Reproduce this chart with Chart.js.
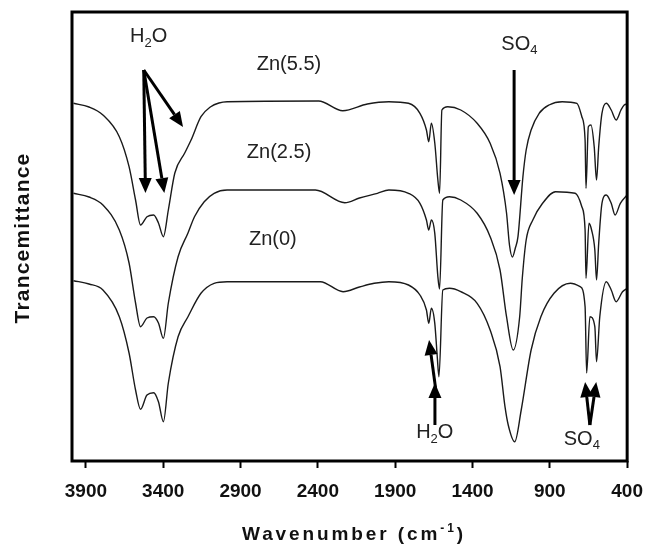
<!DOCTYPE html>
<html>
<head>
<meta charset="utf-8">
<script src="https://cdn.jsdelivr.net/npm/chart.js@4/dist/chart.umd.min.js"></script>
<style>
  html, body { margin: 0; padding: 0; background: #fff; }
  canvas { display: block; }
</style>
</head>
<body>
<canvas id="c" width="655" height="547"></canvas>
<script>
// ---- Data (wavenumber in cm-1, transmittance in arbitrary offset units) ----
const tickValues = [3900, 3400, 2900, 2400, 1900, 1400, 900, 400];
const seriesNames = ["Zn(5.5)", "Zn(2.5)", "Zn(0)"];

const zn55_wn = [3980,3880,3790,3684,3621,3579,3547,3505,3462,3431,3399,3367,3325,3261,3220,3156,3093,3040,2987,2395,2239,2080,1941,1814,1740,1698,1683,1666,1644,1624,1613,1598,1560,1476,1370,1286,1222,1180,1161,1142,1123,1106,1074,1053,1021,969,905,820,725,693,672,666,651,634,613,598,584,563,535,503,471,440,419,400];
const zn55_t  = [357.7,354,346,324.3,294.3,261,236,244.3,246,238,224.3,251,288,308,321,344.3,354.3,358,359.3,360,350.3,357,359.3,357.7,347.7,331,319.3,337.7,318,281,267.7,351,354.3,351,337.7,317.7,287.7,248,216,204,213,224.3,284.3,311,331,347.7,356,359.3,357.7,344.3,321,272.7,334.3,336,314.3,281,314.3,347.7,357.7,351,341,351,356,357];

const zn25_wn = [3980,3880,3790,3684,3621,3579,3547,3505,3462,3431,3399,3367,3304,3240,3198,3135,3071,2987,2532,2416,2226,2131,2015,1941,1814,1740,1698,1683,1666,1644,1624,1613,1592,1549,1476,1370,1286,1222,1180,1137,1095,1078,1053,1010,947,863,736,693,672,666,647,630,609,598,584,563,535,503,478,444,400];
const zn25_t  = [267.7,264,256,231,198,158,134.3,143,144.3,138,122.7,158,204.3,228,244.3,259.3,267.7,271,271,271,258.3,263,267.7,271,267.7,257.7,241,231,241,227.7,184.3,172,261,264.3,261,247.7,224.3,191,144.3,111,144.3,183,221,241,257.7,269.3,267.7,254.3,231,182.7,237.7,231,211,181,217.7,257.7,266,257.7,246,257.7,266];

const zn0_wn = [3980,3880,3790,3684,3621,3579,3547,3505,3462,3431,3399,3367,3304,3240,3156,3071,2987,2384,2237,2131,2036,1941,1814,1740,1698,1683,1666,1644,1628,1617,1592,1549,1476,1370,1286,1222,1190,1169,1127,1085,1021,958,873,767,704,672,662,641,609,598,577,535,503,471,430,400];
const zn0_t  = [180.3,177,171,144.3,108,71,51.7,66,68.3,59.3,39.3,78,124.3,144.3,167.7,177.7,179.3,179.3,169.3,174,177.7,179.3,176,166,151,137.7,152.7,137.7,104.3,84.3,171,172.7,169.3,157.7,131,94.3,54.3,36,19.3,51,111,144.3,167.7,177.7,174.3,154.3,88,144.3,134.3,99.3,144.3,179.3,171,159.3,169.3,172.7];

const FONT = "'Liberation Sans', Arial, Helvetica, sans-serif";

function mk(wn, t, label) {
  return {
    label: label,
    data: wn.map((x, i) => ({ x: x, y: t[i] })),
    borderColor: '#1a1a1a',
    borderWidth: 1.4,
    pointRadius: 0,
    cubicInterpolationMode: 'monotone',
    fill: false
  };
}

function drawRich(ctx, parts, cx, cy, spacing) {
  let total = 0;
  parts.forEach(p => {
    ctx.font = (p.weight || 'normal') + ' ' + p.size + 'px ' + FONT;
    ctx.letterSpacing = (spacing || 0) + 'px';
    p.w = ctx.measureText(p.t).width;
    total += p.w;
  });
  let x = cx - total / 2;
  parts.forEach(p => {
    ctx.font = (p.weight || 'normal') + ' ' + p.size + 'px ' + FONT;
    ctx.letterSpacing = (spacing || 0) + 'px';
    ctx.textAlign = 'left';
    ctx.textBaseline = 'alphabetic';
    ctx.fillText(p.t, x, cy + (p.dy || 0));
    x += p.w;
  });
  ctx.letterSpacing = '0px';
}

function arrow(ctx, x1, y1, x2, y2) {
  const head = 15, hw = 6.5;
  const ang = Math.atan2(y2 - y1, x2 - x1);
  const bx = x2 - head * Math.cos(ang), by = y2 - head * Math.sin(ang);
  ctx.beginPath();
  ctx.moveTo(x1, y1);
  ctx.lineTo(bx, by);
  ctx.lineWidth = 3;
  ctx.strokeStyle = '#000';
  ctx.stroke();
  ctx.beginPath();
  ctx.moveTo(x2, y2);
  ctx.lineTo(bx + hw * Math.sin(ang), by - hw * Math.cos(ang));
  ctx.lineTo(bx - hw * Math.sin(ang), by + hw * Math.cos(ang));
  ctx.closePath();
  ctx.fillStyle = '#000';
  ctx.fill();
}

const annot = {
  id: 'annot',
  afterDatasetsDraw(chart, args, opts) {
    const ctx = chart.ctx;
    const xs = chart.scales.x, ys = chart.scales.y;
    const X = v => xs.getPixelForValue(v), Y = v => ys.getPixelForValue(v);
    const a = chart.chartArea;
    ctx.save();
    ctx.lineWidth = 3;
    ctx.strokeStyle = '#000';
    ctx.strokeRect(a.left, a.top, a.right - a.left, a.bottom - a.top);
    opts.arrows.forEach(r => arrow(ctx, X(r[0]), Y(r[1]), X(r[2]), Y(r[3])));
    ctx.fillStyle = '#222';
    opts.labels.forEach(l => {
      const parts = l.parts.map(p => Object.assign({}, p));
      drawRich(ctx, parts, X(l.x), Y(l.y), 0);
    });
    ctx.fillStyle = '#111';
    drawRich(ctx, [
      { t: 'Wavenumber (cm', size: 19, weight: 'bold' },
      { t: '-1', size: 12, weight: 'bold', dy: -8 },
      { t: ')', size: 19, weight: 'bold' }
    ], 354, 540, 2.9);
    ctx.save();
    ctx.translate(29, 238);
    ctx.rotate(-Math.PI / 2);
    drawRich(ctx, [{ t: 'Trancemittance', size: 21, weight: 'bold' }], 0, 0, 1.2);
    ctx.restore();
    ctx.restore();
  }
};

const ctx = document.getElementById('c').getContext('2d');
new Chart(ctx, {
  type: 'line',
  data: {
    datasets: [
      mk(zn55_wn, zn55_t, seriesNames[0]),
      mk(zn25_wn, zn25_t, seriesNames[1]),
      mk(zn0_wn, zn0_t, seriesNames[2])
    ]
  },
  options: {
    responsive: false,
    animation: false,
    layout: { padding: { left: 72, right: 17, top: 12, bottom: 0 } },
    plugins: {
      legend: { display: false },
      tooltip: { enabled: false },
      annot: {
        arrows: [
          [3526, 391, 3515, 268],
          [3526, 391, 3393, 268],
          [3526, 391, 3272, 334],
          [1131, 391, 1131, 266],
          [1639, 73, 1681, 121],
          [1643, 36, 1643, 78],
          [641, 36, 672, 79],
          [641, 36, 600, 79]
        ],
        labels: [
          { x: 3494, y: 419, parts: [{ t: 'H', size: 20 }, { t: '2', size: 13, dy: 5 }, { t: 'O', size: 20 }] },
          { x: 2587, y: 391, parts: [{ t: 'Zn(5.5)', size: 20 }] },
          { x: 2651, y: 303, parts: [{ t: 'Zn(2.5)', size: 20 }] },
          { x: 2691, y: 216, parts: [{ t: 'Zn(0)', size: 20 }] },
          { x: 1097, y: 411, parts: [{ t: 'SO', size: 20 }, { t: '4', size: 13, dy: 4 }] },
          { x: 1644, y: 23, parts: [{ t: 'H', size: 20 }, { t: '2', size: 13, dy: 5 }, { t: 'O', size: 20 }] },
          { x: 693, y: 16, parts: [{ t: 'SO', size: 20 }, { t: '4', size: 13, dy: 4 }] }
        ]
      }
    },
    scales: {
      x: {
        type: 'linear',
        reverse: true,
        min: 400,
        max: 3990,
        afterBuildTicks: s => { s.ticks = tickValues.map(v => ({ value: v })); },
        afterFit: s => { s.height = 86; },
        grid: { drawOnChartArea: false, drawTicks: true, tickLength: 7, tickWidth: 2, tickColor: '#000' },
        border: { display: false },
        ticks: {
          font: { family: FONT, size: 19, weight: 'bold' },
          color: '#111',
          padding: 12,
          maxRotation: 0,
          autoSkip: false,
          callback: v => String(v)
        }
      },
      y: { display: false, min: 0, max: 449 }
    }
  },
  plugins: [annot]
});
</script>
</body>
</html>
